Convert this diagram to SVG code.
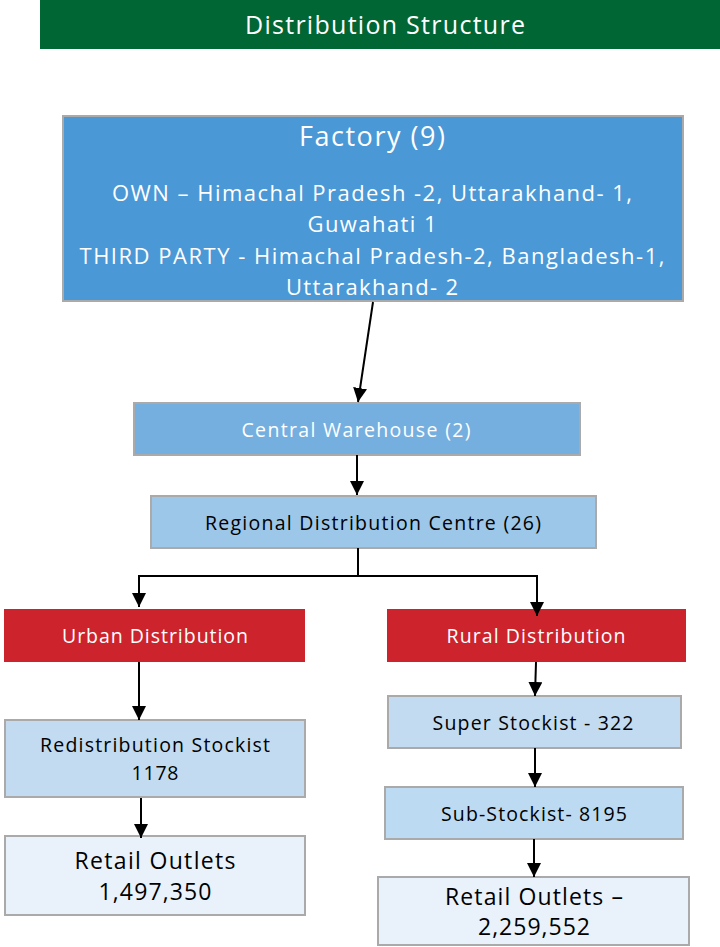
<svg xmlns="http://www.w3.org/2000/svg" width="720" height="947" viewBox="0 0 720 947">
<defs>
<marker id="ah" markerUnits="userSpaceOnUse" markerWidth="14" markerHeight="16" viewBox="0 0 14 16" refX="14" refY="7" orient="auto">
<path d="M0,0 L14,7 L0,14 Z" fill="#000"/>
</marker>
<style>
text{font-family:"Open Sans","DejaVu Sans",sans-serif;text-anchor:middle}
.box{stroke:#aaaaaa;stroke-width:2}
.w{fill:#ffffff}
.k{fill:#000000}
.conn{fill:none;stroke:#000;stroke-width:2;marker-end:url(#ah)}
</style>
</defs>
<rect width="720" height="947" fill="#ffffff"/>
<g id="header">
<rect x="40" y="0" width="680" height="49" fill="#006633"/>
<text x="385" y="34" font-size="25" class="w" textLength="280" lengthAdjust="spacing">Distribution Structure</text>
</g>
<g id="factory">
<rect x="63" y="116" width="620" height="185" fill="#4a98d6" class="box"/>
<text x="372" y="146" font-size="27" class="w" textLength="146" lengthAdjust="spacing">Factory (9)</text>
<text x="372" y="201" font-size="22" class="w" textLength="520" lengthAdjust="spacing">OWN – Himachal Pradesh -2, Uttarakhand- 1,</text>
<text x="372" y="232" font-size="22" class="w" textLength="129" lengthAdjust="spacing">Guwahati 1</text>
<text x="372" y="264" font-size="22" class="w" textLength="585" lengthAdjust="spacing">THIRD PARTY - Himachal Pradesh-2, Bangladesh-1,</text>
<text x="372" y="295" font-size="22" class="w" textLength="172" lengthAdjust="spacing">Uttarakhand- 2</text>
</g>
<g id="central">
<rect x="134" y="403" width="446" height="52" fill="#74afdf" class="box"/>
<text x="356" y="437" font-size="19.5" class="w" textLength="229" lengthAdjust="spacing">Central Warehouse (2)</text>
</g>
<g id="regional">
<rect x="151" y="496" width="445" height="52" fill="#9dc7e9" class="box"/>
<text x="373" y="530" font-size="19.5" class="k" textLength="336" lengthAdjust="spacing">Regional Distribution Centre (26)</text>
</g>
<g id="urban">
<rect x="4" y="609" width="301" height="53" fill="#cc232d"/>
<text x="155" y="643" font-size="19.5" class="w" textLength="186" lengthAdjust="spacing">Urban Distribution</text>
</g>
<g id="rural">
<rect x="387" y="609" width="299" height="53" fill="#cc232d"/>
<text x="536" y="643" font-size="19.5" class="w" textLength="179" lengthAdjust="spacing">Rural Distribution</text>
</g>
<g id="redistribution">
<rect x="5" y="720" width="300" height="77" fill="#c2dbf1" class="box"/>
<text x="155" y="752" font-size="19.5" class="k" textLength="230" lengthAdjust="spacing">Redistribution Stockist</text>
<text x="155" y="780" font-size="19.5" class="k" textLength="47" lengthAdjust="spacing">1178</text>
</g>
<g id="retail-urban">
<rect x="5" y="836" width="300" height="79" fill="#e9f2fb" class="box"/>
<text x="155" y="869" font-size="23" class="k" textLength="161" lengthAdjust="spacing">Retail Outlets</text>
<text x="155" y="900" font-size="23" class="k" textLength="113" lengthAdjust="spacing">1,497,350</text>
</g>
<g id="super">
<rect x="388" y="696" width="293" height="52" fill="#c2dbf1" class="box"/>
<text x="533" y="730" font-size="19.5" class="k" textLength="201" lengthAdjust="spacing">Super Stockist - 322</text>
</g>
<g id="sub">
<rect x="385" y="787" width="298" height="52" fill="#bcdaf1" class="box"/>
<text x="534" y="821" font-size="19.5" class="k" textLength="186" lengthAdjust="spacing">Sub-Stockist- 8195</text>
</g>
<g id="retail-rural">
<rect x="378" y="877" width="311" height="68" fill="#e9f2fb" class="box"/>
<text x="534" y="905" font-size="23" class="k" textLength="178" lengthAdjust="spacing">Retail Outlets –</text>
<text x="534" y="935" font-size="23" class="k" textLength="112" lengthAdjust="spacing">2,259,552</text>
</g>
<g id="connectors">
<line x1="373" y1="302" x2="358" y2="402" class="conn"/>
<line x1="357" y1="455" x2="357" y2="495" class="conn"/>
<polyline points="358,548 358,576 139,576 139,607" class="conn"/>
<polyline points="358,576 537,576 537,616" class="conn"/>
<line x1="139" y1="662" x2="139" y2="720" class="conn"/>
<line x1="141" y1="798" x2="141" y2="838" class="conn"/>
<line x1="536" y1="662" x2="535" y2="696" class="conn"/>
<line x1="535" y1="748" x2="535" y2="787" class="conn"/>
<line x1="534" y1="839" x2="534" y2="877" class="conn"/>
</g>
</svg>
